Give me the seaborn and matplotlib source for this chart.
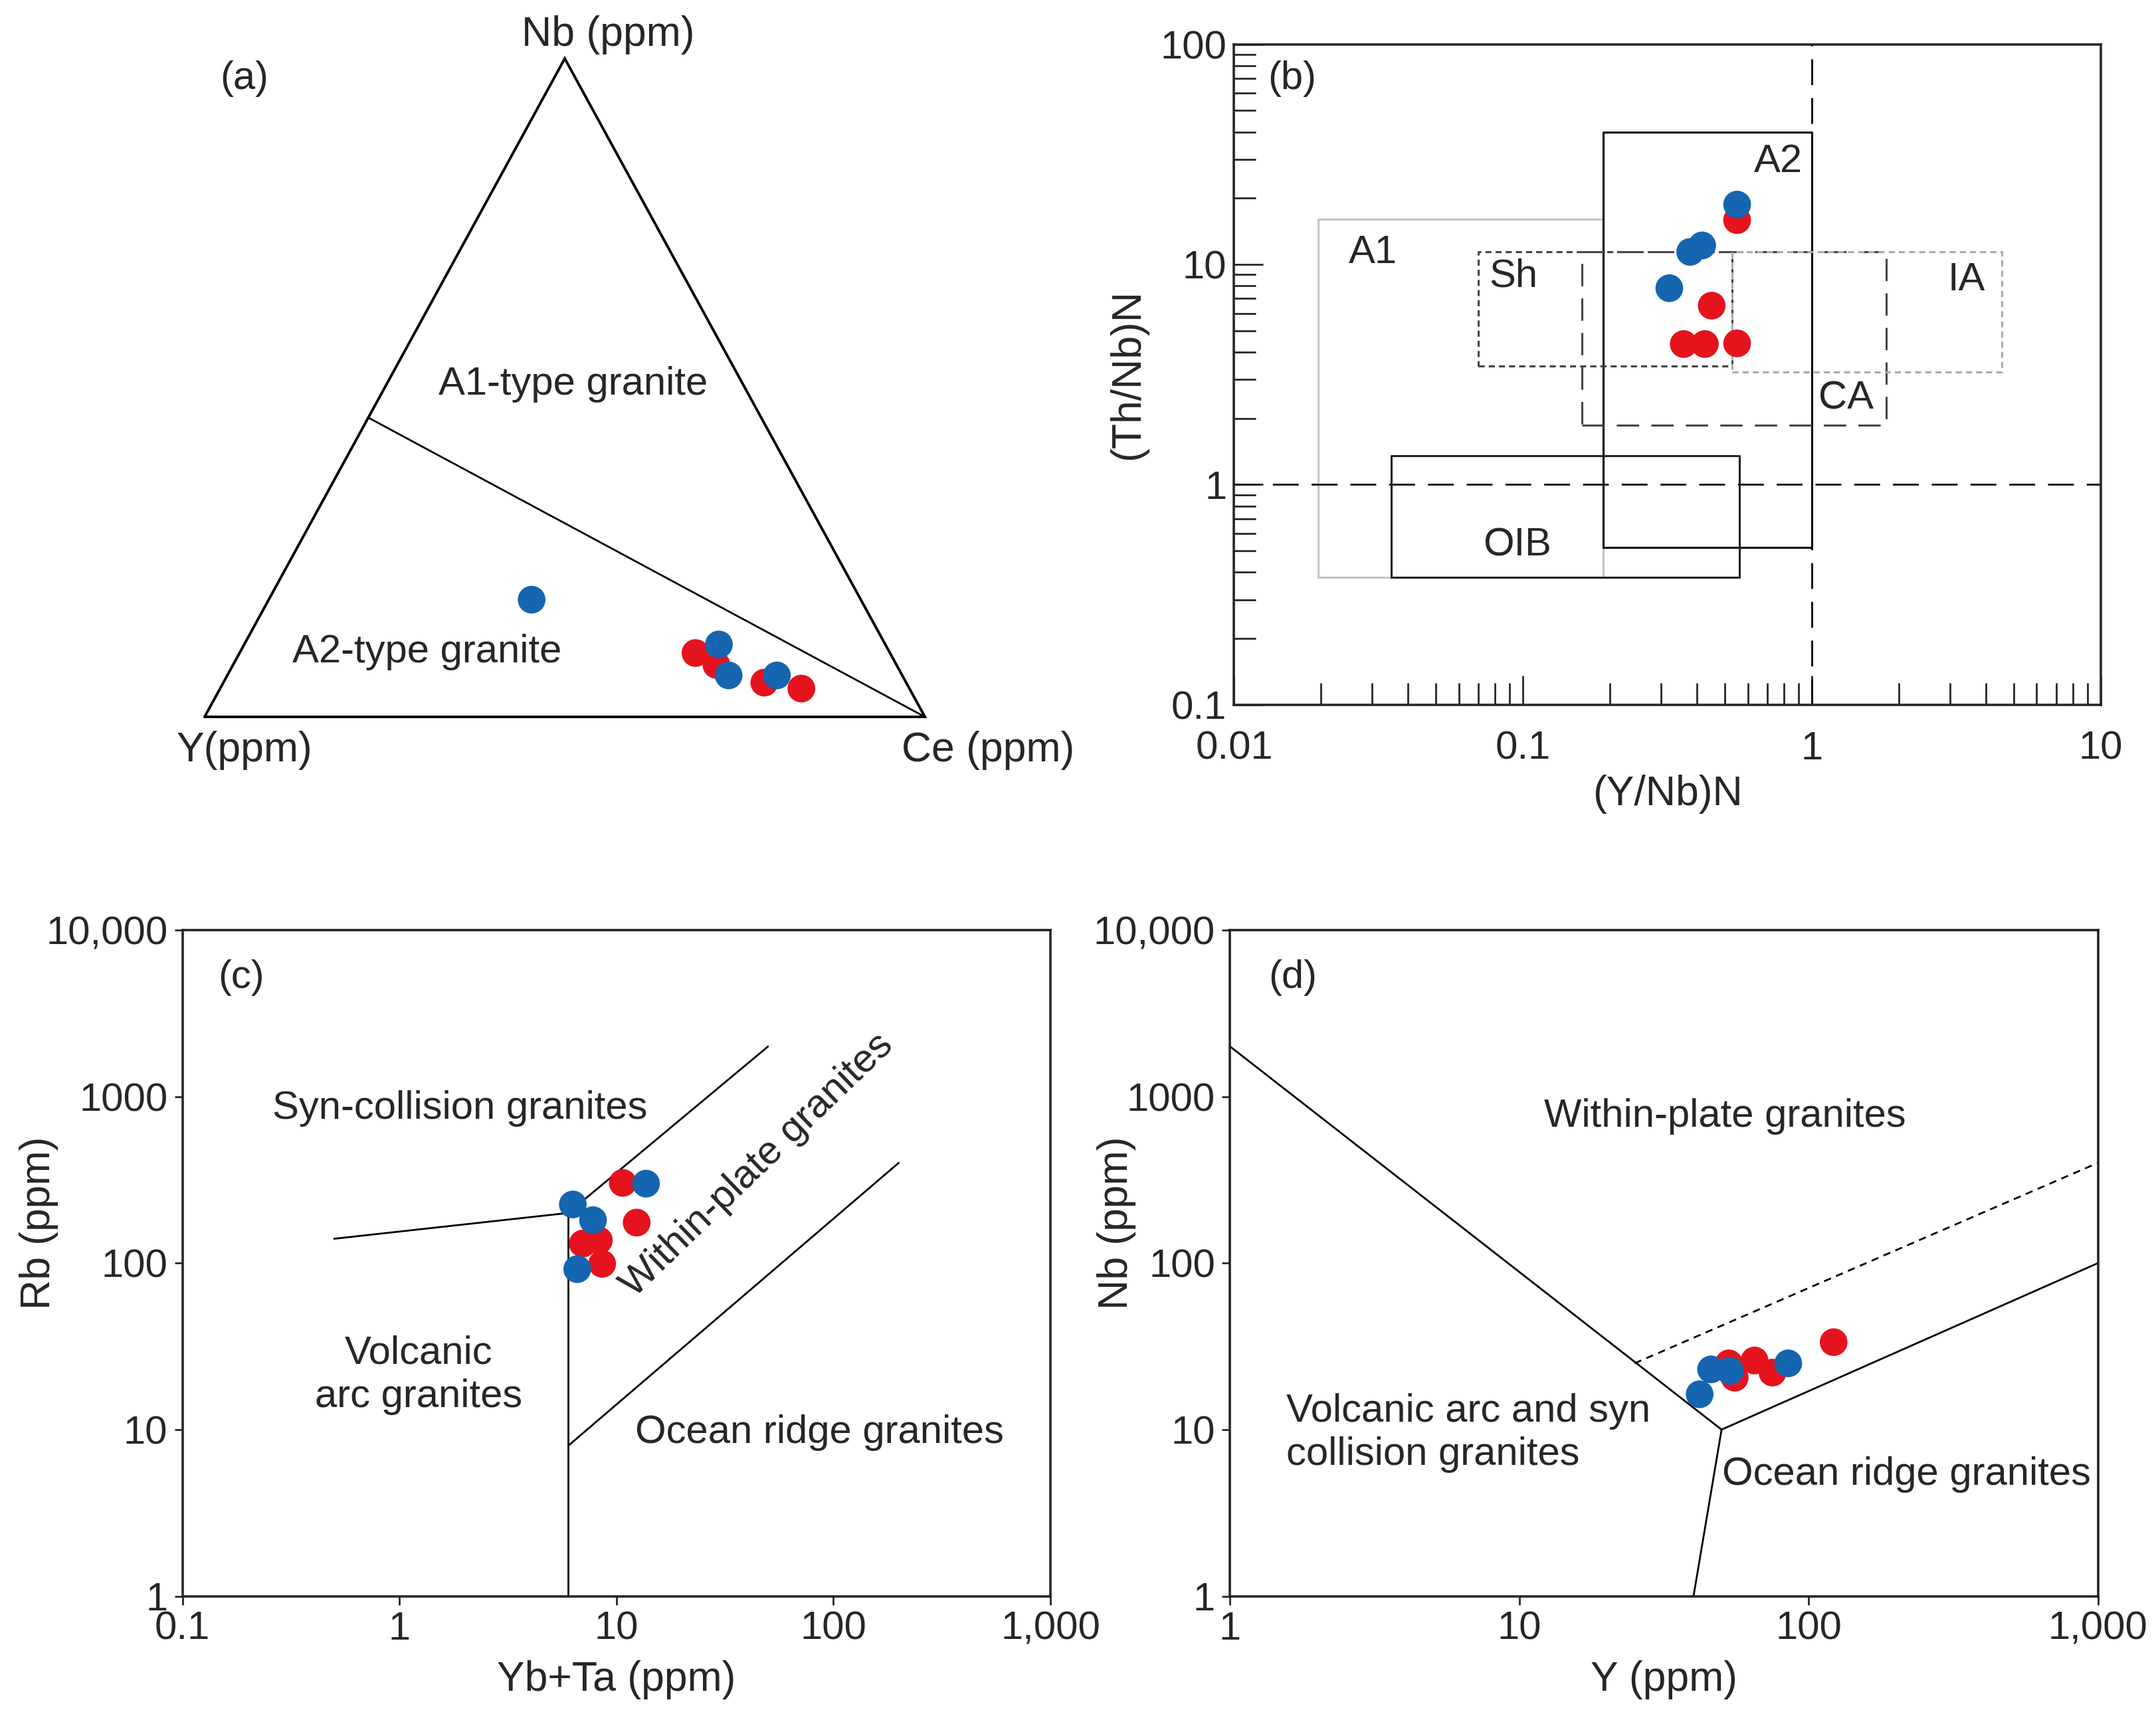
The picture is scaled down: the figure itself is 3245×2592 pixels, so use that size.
import numpy as np
import pandas as pd
import matplotlib
matplotlib.use("Agg")
import matplotlib.pyplot as plt
import seaborn as sns
from matplotlib.ticker import NullLocator

sns.set_style("ticks")
plt.rcParams['font.family'] = ['Liberation Sans', 'DejaVu Sans']

RED = "#E5131D"
BLUE = "#1565B0"
FS = 43

# ---- (a) Nb - Y - Ce ternary (fractions) ----
a_red_nb = [0.097, 0.079, 0.052, 0.043]
a_red_y = [0.270, 0.250, 0.197, 0.150]
a_red_ce = [0.633, 0.671, 0.751, 0.807]
a_blue_nb = [0.178, 0.110, 0.063, 0.063]
a_blue_y = [0.457, 0.231, 0.241, 0.174]
a_blue_ce = [0.365, 0.659, 0.696, 0.763]

# ---- (b) (Y/Nb)N vs (Th/Nb)N ----
b_red_x = [0.551, 0.450, 0.360, 0.426, 0.551]
b_red_y = [15.9, 6.5, 4.35, 4.35, 4.38]
b_blue_x = [0.551, 0.379, 0.417, 0.321]
b_blue_y = [18.7, 11.4, 12.2, 7.8]

# field boxes: (xmin, xmax, ymin, ymax)
box_a1 = (0.0195, 0.19, 0.38, 16.0)
box_a2 = (0.19, 1.0, 0.52, 40.0)
box_oib = (0.035, 0.56, 0.38, 1.35)
box_sh = (0.07, 0.53, 3.45, 11.4)
box_ca = (0.16, 1.81, 1.86, 11.4)
box_ia = (0.53, 4.55, 3.25, 11.4)

# ---- (c) Yb+Ta vs Rb ----
c_red_x = [10.7, 12.4, 7.0, 8.3, 8.6]
c_red_y = [303, 175, 131, 137, 99]
c_blue_x = [6.3, 7.8, 13.7, 6.6]
c_blue_y = [225, 181, 300, 92]

# ---- (d) Y vs Nb ----
d_red_x = [53.0, 55.5, 65.0, 75.0, 122.0]
d_red_y = [25.0, 20.5, 26.0, 22.0, 33.5]
d_blue_x = [42.0, 46.0, 53.5, 85.0]
d_blue_y = [16.3, 23.0, 22.5, 25.0]


def make_df(rx, ry, bx, by):
    return pd.DataFrame({
        "x": list(rx) + list(bx),
        "y": list(ry) + list(by),
        "group": ["red"] * len(rx) + ["blue"] * len(bx),
    })


def dots(ax, df):
    sns.scatterplot(data=df, x="x", y="y", hue="group",
                    palette={"red": RED, "blue": BLUE}, s=900,
                    linewidth=0, legend=False, ax=ax, zorder=5, clip_on=False)
    ax.set_xlabel("")
    ax.set_ylabel("")


def box(ax, b, **kw):
    x0, x1, y0, y1 = b
    ax.plot([x0, x1, x1, x0, x0], [y0, y0, y1, y1, y0], **kw)


fig = plt.figure(figsize=(32.45, 25.92), dpi=100)

# ================= (a) =================
axa = fig.add_axes([0.0949, 0.5837, 0.3341, 0.3823])
axa.plot([0, 1, 0.5, 0], [0, 0, 1, 0], color="black", lw=2.8,
         solid_joinstyle="miter", clip_on=False)
nb_div = 1 / 2.2
axa.plot([nb_div / 2, 1], [nb_div, 0], color="black", lw=2.0)


def tern(nb, ce):
    nb = np.array(nb)
    ce = np.array(ce)
    return ce + nb / 2, nb


rx, ry = tern(a_red_nb, a_red_ce)
bx, by = tern(a_blue_nb, a_blue_ce)
dots(axa, make_df(rx, ry, bx, by))
axa.set_xlim(0, 1)
axa.set_ylim(0, 1)
axa.axis("off")
axa.text(0.0555, 0.969, "(a)", fontsize=FS, ha="center", va="center")
axa.text(0.56, 1.036, "Nb (ppm)", fontsize=FS + 2, ha="center", va="center")
axa.text(0.0555, -0.051, "Y(ppm)", fontsize=FS + 2, ha="center", va="center")
axa.text(1.088, -0.051, "Ce (ppm)", fontsize=FS + 2, ha="center", va="center")
axa.text(0.512, 0.505, "A1-type granite", fontsize=FS, ha="center", va="center")
axa.text(0.309, 0.098, "A2-type granite", fontsize=FS, ha="center", va="center")

# ================= (b) =================
axb = fig.add_axes([0.5724, 0.5907, 0.4020, 0.3836])
axb.set_xscale("log")
axb.set_yscale("log")
box(axb, box_a1, color="#c4c4c4", lw=2.2, zorder=2)
box(axb, box_a2, color="black", lw=2.2, zorder=3)
box(axb, box_oib, color="#222222", lw=2.2, zorder=3)
box(axb, box_sh, color="#444444", lw=2.2, dashes=(3, 2), zorder=3)
box(axb, box_ca, color="#444444", lw=2.2, dashes=(11, 6), zorder=3)
box(axb, box_ia, color="#aaaaaa", lw=2.2, dashes=(3, 2), zorder=3)
axb.axhline(1, color="black", lw=2.0, dashes=(14, 7), zorder=2)
axb.axvline(1, color="black", lw=2.0, dashes=(14, 7), zorder=2)
dots(axb, make_df(b_red_x, b_red_y, b_blue_x, b_blue_y))
axb.set_xlim(0.01, 10)
axb.set_ylim(0.1, 100)
axb.set_xticks([0.01, 0.1, 1, 10])
axb.set_xticklabels(["0.01", "0.1", "1", "10"])
axb.set_yticks([0.1, 1, 10, 100])
axb.set_yticklabels(["0.1", "1", "10", "100"])
axb.tick_params(which="both", direction="in", width=2, top=False, right=False)
axb.tick_params(which="major", length=32, labelsize=FS)
axb.tick_params(which="minor", length=24)
axb.tick_params(axis="x", pad=28)
axb.tick_params(axis="y", pad=8)
axb.set_xlabel("(Y/Nb)N", fontsize=FS + 2, labelpad=8)
axb.set_ylabel("(Th/Nb)N", fontsize=FS + 2, labelpad=14)
for s in axb.spines.values():
    s.set_linewidth(2.6)
tb = axb.transAxes
axb.text(0.067, 0.948, "(b)", transform=tb, fontsize=FS, ha="center", va="center")
axb.text(0.628, 0.822, "A2", transform=tb, fontsize=FS, ha="center", va="center")
axb.text(0.160, 0.684, "A1", transform=tb, fontsize=FS, ha="center", va="center")
axb.text(0.322, 0.649, "Sh", transform=tb, fontsize=FS, ha="center", va="center")
axb.text(0.845, 0.643, "IA", transform=tb, fontsize=FS, ha="center", va="center")
axb.text(0.706, 0.464, "CA", transform=tb, fontsize=FS, ha="center", va="center")
axb.text(0.327, 0.241, "OIB", transform=tb, fontsize=FS, ha="center", va="center")


def log_frame(ax, xt, xl, yt, yl):
    ax.set_xticks(xt)
    ax.set_xticklabels(xl)
    ax.set_yticks(yt)
    ax.set_yticklabels(yl)
    ax.xaxis.set_minor_locator(NullLocator())
    ax.yaxis.set_minor_locator(NullLocator())
    ax.tick_params(which="major", direction="out", length=9, width=2,
                   labelsize=FS, pad=7, top=False, right=False)
    for s in ax.spines.values():
        s.set_linewidth(2.6)


ytk = [1, 10, 100, 1000, 10000]
ytl = ["1", "10", "100", "1000", "10,000"]

# ================= (c) =================
axc = fig.add_axes([0.0846, 0.0731, 0.4026, 0.3868])
axc.set_xscale("log")
axc.set_yscale("log")
lw_f = 2.0
axc.plot([0.5, 6], [140, 200], color="black", lw=lw_f)
axc.plot([6, 6], [1, 200], color="black", lw=lw_f)
axc.plot([6, 50], [200, 2000], color="black", lw=lw_f)
axc.plot([6, 200], [8, 400], color="black", lw=lw_f)
dots(axc, make_df(c_red_x, c_red_y, c_blue_x, c_blue_y))
axc.set_xlim(0.1, 1000)
axc.set_ylim(1, 10000)
log_frame(axc, [0.1, 1, 10, 100, 1000], ["0.1", "1", "10", "100", "1,000"], ytk, ytl)
axc.set_xlabel("Yb+Ta (ppm)", fontsize=FS + 2, labelpad=14)
axc.set_ylabel("Rb (ppm)", fontsize=FS + 2)
axc.yaxis.set_label_coords(-0.143, 0.56)
tc = axc.transAxes
axc.text(0.068, 0.929, "(c)", transform=tc, fontsize=FS, ha="center", va="center")
axc.text(0.320, 0.732, "Syn-collision granites", transform=tc, fontsize=FS,
         ha="center", va="center")
axc.text(0.662, 0.647, "Within-plate granites", transform=tc, fontsize=FS,
         ha="center", va="center", rotation=44)
axc.text(0.272, 0.332, "Volcanic\narc granites", transform=tc, fontsize=FS,
         ha="center", va="center", linespacing=1.25)
axc.text(0.734, 0.245, "Ocean ridge granites", transform=tc, fontsize=FS,
         ha="center", va="center")

# ================= (d) =================
axd = fig.add_axes([0.5705, 0.0731, 0.4026, 0.3868])
axd.set_xscale("log")
axd.set_yscale("log")
axd.plot([1, 50], [2000, 10], color="black", lw=lw_f)
axd.plot([50, 1000], [10, 100], color="black", lw=lw_f)
axd.plot([50, 40], [10, 1], color="black", lw=lw_f)
axd.plot([25, 1000], [25, 400], color="black", lw=lw_f, dashes=(4, 3))
dots(axd, make_df(d_red_x, d_red_y, d_blue_x, d_blue_y))
axd.set_xlim(1, 1000)
axd.set_ylim(1, 10000)
log_frame(axd, [1, 10, 100, 1000], ["1", "10", "100", "1,000"], ytk, ytl)
axd.set_xlabel("Y (ppm)", fontsize=FS + 2, labelpad=14)
axd.set_ylabel("Nb (ppm)", fontsize=FS + 2)
axd.yaxis.set_label_coords(-0.108, 0.56)
td = axd.transAxes
axd.text(0.072, 0.929, "(d)", transform=td, fontsize=FS, ha="center", va="center")
axd.text(0.570, 0.720, "Within-plate granites", transform=td, fontsize=FS,
         ha="center", va="center")
axd.text(0.065, 0.245, "Volcanic arc and syn\ncollision granites", transform=td,
         fontsize=FS, ha="left", va="center", linespacing=1.25)
axd.text(0.779, 0.183, "Ocean ridge granites", transform=td, fontsize=FS,
         ha="center", va="center")

fig.savefig("out.png", dpi=100, facecolor="white")
